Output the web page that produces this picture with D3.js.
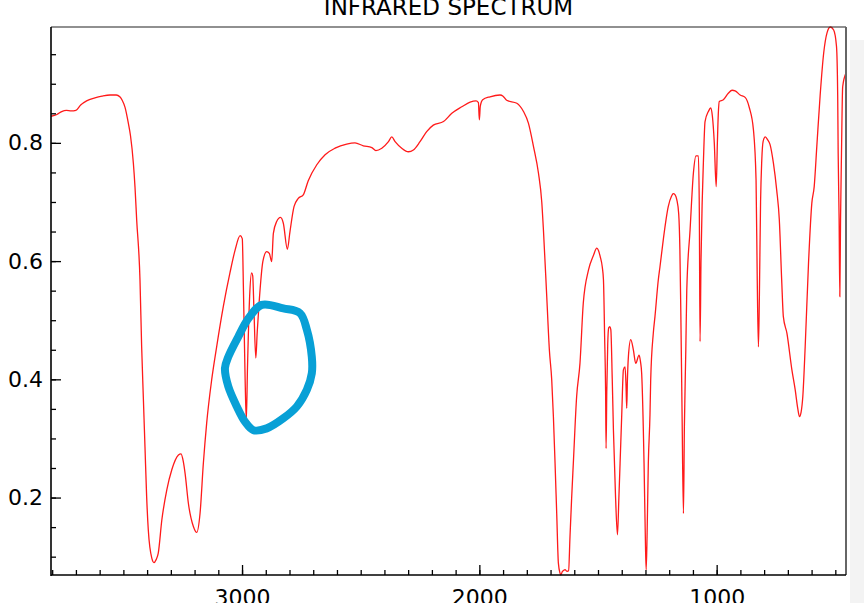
<!DOCTYPE html>
<html>
<head>
<meta charset="utf-8">
<script src="https://cdn.jsdelivr.net/npm/d3@7"></script>
<style>
  body { margin: 0; background: #fff; }
  svg { display: block; font-family: "DejaVu Sans", sans-serif; }
</style>
</head>
<body>
<div id="chart"></div>
<script>
var width = 864,
    height = 603,
    margin = {top: 27, right: 18, bottom: 28, left: 51};

// wavenumber (cm-1), transmittance
var spectrum = [
  [3805, 0.845], [3780, 0.848], [3760, 0.853], [3740, 0.855], [3720, 0.854], [3700, 0.855],
  [3680, 0.864], [3655, 0.871], [3620, 0.876], [3590, 0.879], [3556, 0.881], [3530, 0.881],
  [3515, 0.878], [3505, 0.872], [3493, 0.860], [3479, 0.833], [3470, 0.812], [3458, 0.766],
  [3451, 0.725], [3444, 0.670], [3430, 0.568], [3423, 0.455], [3416, 0.370], [3409, 0.286],
  [3402, 0.202], [3395, 0.145], [3380, 0.097], [3371, 0.090], [3362, 0.095], [3353, 0.106],
  [3338, 0.162], [3317, 0.213], [3296, 0.247], [3268, 0.272], [3257, 0.274], [3248, 0.262],
  [3240, 0.241], [3226, 0.190], [3205, 0.151], [3191, 0.141], [3177, 0.173], [3163, 0.258],
  [3149, 0.326], [3128, 0.399], [3107, 0.455], [3079, 0.523], [3051, 0.580], [3029, 0.619],
  [3008, 0.643], [2999, 0.638], [2994, 0.550], [2987, 0.400], [2982, 0.331], [2977, 0.420],
  [2968, 0.540], [2960, 0.580], [2955, 0.575], [2950, 0.520], [2942, 0.436], [2936, 0.480],
  [2928, 0.530], [2912, 0.600], [2896, 0.616], [2885, 0.613], [2875, 0.599], [2868, 0.647],
  [2854, 0.667], [2838, 0.674], [2826, 0.664], [2809, 0.620], [2798, 0.650], [2781, 0.692],
  [2763, 0.706], [2742, 0.712], [2721, 0.736], [2685, 0.763], [2650, 0.780], [2608, 0.791],
  [2559, 0.798], [2524, 0.800], [2489, 0.795], [2453, 0.792], [2436, 0.787], [2411, 0.791],
  [2383, 0.802], [2369, 0.810], [2355, 0.802], [2327, 0.791], [2299, 0.785], [2278, 0.788],
  [2250, 0.802], [2222, 0.819], [2194, 0.830], [2151, 0.836], [2116, 0.850], [2074, 0.861],
  [2039, 0.869], [2014, 0.871], [2004, 0.868], [2000, 0.839], [1996, 0.862], [1986, 0.873],
  [1955, 0.878], [1913, 0.881], [1900, 0.879], [1885, 0.872], [1842, 0.867], [1814, 0.853],
  [1793, 0.833], [1772, 0.794], [1751, 0.749], [1737, 0.700], [1730, 0.653], [1716, 0.540],
  [1705, 0.450], [1695, 0.399], [1688, 0.337], [1681, 0.258], [1674, 0.173], [1667, 0.089],
  [1660, 0.072], [1657, 0.069], [1650, 0.075], [1644, 0.077], [1639, 0.078], [1630, 0.075],
  [1624, 0.076], [1618, 0.134], [1611, 0.200], [1604, 0.258], [1590, 0.371], [1576, 0.427],
  [1562, 0.529], [1540, 0.585], [1519, 0.610], [1505, 0.622], [1498, 0.618], [1491, 0.608],
  [1482, 0.590], [1477, 0.568], [1472, 0.470], [1468, 0.380], [1466, 0.283], [1463, 0.380],
  [1459, 0.460], [1455, 0.487], [1450, 0.489], [1446, 0.484], [1440, 0.400], [1435, 0.314],
  [1426, 0.200], [1418, 0.137], [1412, 0.200], [1407, 0.258], [1400, 0.340], [1393, 0.416],
  [1386, 0.421], [1382, 0.390], [1379, 0.351], [1376, 0.400], [1372, 0.438], [1362, 0.467],
  [1351, 0.450], [1341, 0.427], [1327, 0.441], [1321, 0.430], [1316, 0.410], [1306, 0.258],
  [1300, 0.120], [1297, 0.078], [1293, 0.140], [1288, 0.258], [1281, 0.340], [1278, 0.399],
  [1267, 0.478], [1260, 0.506], [1246, 0.568], [1239, 0.590], [1225, 0.636], [1204, 0.692],
  [1190, 0.710], [1183, 0.714], [1175, 0.712], [1168, 0.704], [1160, 0.680], [1155, 0.620],
  [1151, 0.512], [1146, 0.350], [1140, 0.173], [1136, 0.320], [1130, 0.450], [1126, 0.550],
  [1112, 0.653], [1098, 0.749], [1087, 0.778], [1077, 0.778], [1073, 0.681], [1070, 0.464],
  [1066, 0.600], [1061, 0.700], [1056, 0.766], [1049, 0.836], [1035, 0.853], [1025, 0.859],
  [1018, 0.845], [1010, 0.800], [1002, 0.726], [997, 0.800], [993, 0.850], [989, 0.870],
  [972, 0.873], [951, 0.884], [935, 0.889], [922, 0.888], [901, 0.881], [880, 0.877],
  [862, 0.859], [845, 0.822], [834, 0.737], [829, 0.568], [824, 0.455], [820, 0.540],
  [815, 0.700], [810, 0.770], [804, 0.803], [795, 0.810], [785, 0.805], [775, 0.797],
  [761, 0.766], [747, 0.720], [736, 0.670], [726, 0.568], [719, 0.506], [704, 0.478],
  [683, 0.416], [669, 0.382], [658, 0.350], [651, 0.337], [644, 0.345], [637, 0.371],
  [627, 0.455], [613, 0.596], [599, 0.698], [589, 0.726], [578, 0.794], [564, 0.880],
  [549, 0.952], [535, 0.986], [521, 0.996], [507, 0.991], [495, 0.963], [490, 0.880],
  [488, 0.783], [484, 0.670], [481, 0.540], [478, 0.670], [474, 0.783], [469, 0.895],
  [455, 0.918]
];

var xMajorTicks = [3000, 2000, 1000],
    xMinorTicks = d3.range(500, 3801, 100),
    yMajorTicks = [0.2, 0.4, 0.6, 0.8],
    yMinorTicks = d3.range(0.1, 0.96, 0.05);

var title = "INFRARED SPECTRUM";

// hand drawn loop, in wavenumber / transmittance units
var annotationLoop = [
  [2917, 0.526], [2826, 0.520], [2756, 0.512], [2727, 0.484], [2706, 0.438], [2706, 0.410],
  [2727, 0.382], [2769, 0.354], [2826, 0.334], [2896, 0.317], [2952, 0.314], [2987, 0.328],
  [3022, 0.354], [3058, 0.388], [3072, 0.419], [3058, 0.438], [3016, 0.472], [2973, 0.503]
];

var svg = d3.select("#chart")
    .append("svg")
    .attr("width", width)
    .attr("height", height);

// faint grey strip at the right edge of the picture
svg.append("rect")
    .attr("x", width - 14)
    .attr("y", 40)
    .attr("width", 14)
    .attr("height", height - 40)
    .attr("fill", "#f3f3f3");

var x = d3.scaleLinear()
    .domain([d3.max(spectrum, function (d) { return d[0]; }), d3.min(spectrum, function (d) { return d[0]; })])
    .range([margin.left, width - margin.right]);

var y = d3.scaleLinear()
    .domain(d3.extent(spectrum, function (d) { return d[1]; }))
    .range([height - margin.bottom, margin.top]);

var plotW = x.range()[1] - x.range()[0],
    plotH = y.range()[0] - y.range()[1];

svg.append("clipPath")
    .attr("id", "plot-clip")
    .append("rect")
    .attr("x", margin.left)
    .attr("y", margin.top - 1)
    .attr("width", plotW)
    .attr("height", plotH + 2);

var line = d3.line()
    .x(function (d) { return x(d[0]); })
    .y(function (d) { return y(d[1]); })
    .curve(d3.curveMonotoneX);

svg.append("path")
    .datum(spectrum)
    .attr("clip-path", "url(#plot-clip)")
    .attr("fill", "none")
    .attr("stroke", "#ff1a1a")
    .attr("stroke-width", 1.3)
    .attr("d", line);

// axes: ticks point inward
var axisY0 = y.range()[0];

svg.append("g")
    .attr("transform", "translate(0," + axisY0 + ")")
    .call(d3.axisBottom(x).tickValues(xMinorTicks).tickSize(-5).tickSizeOuter(0).tickFormat(""));

svg.append("g")
    .attr("class", "x major")
    .attr("transform", "translate(0," + axisY0 + ")")
    .call(d3.axisBottom(x).tickValues(xMajorTicks).tickSize(-10).tickSizeOuter(0).tickPadding(14)
        .tickFormat(d3.format("d")));

svg.append("g")
    .attr("transform", "translate(" + margin.left + ",0)")
    .call(d3.axisLeft(y).tickValues(yMinorTicks).tickSize(-5).tickSizeOuter(0).tickFormat(""));

svg.append("g")
    .attr("class", "y major")
    .attr("transform", "translate(" + margin.left + ",0)")
    .call(d3.axisLeft(y).tickValues(yMajorTicks).tickSize(-10).tickSizeOuter(0).tickPadding(8)
        .tickFormat(d3.format(".1f")));

svg.selectAll(".domain").remove();
svg.selectAll(".tick line")
    .attr("stroke", "#000")
    .attr("stroke-width", 1.3);
svg.selectAll(".major text")
    .attr("fill", "#000")
    .style("font-size", "22px")
    .style("font-family", "DejaVu Sans");

// frame
svg.append("line")
    .attr("x1", margin.left).attr("x2", margin.left + plotW)
    .attr("y1", margin.top).attr("y2", margin.top)
    .attr("stroke", "#222").attr("stroke-width", 1.2);
svg.append("line")
    .attr("x1", margin.left + plotW).attr("x2", margin.left + plotW)
    .attr("y1", margin.top).attr("y2", axisY0)
    .attr("stroke", "#666").attr("stroke-width", 2);
svg.append("line")
    .attr("x1", margin.left).attr("x2", margin.left)
    .attr("y1", margin.top).attr("y2", axisY0 + 1)
    .attr("stroke", "#000").attr("stroke-width", 1.6);
svg.append("line")
    .attr("x1", margin.left).attr("x2", margin.left + plotW)
    .attr("y1", axisY0).attr("y2", axisY0)
    .attr("stroke", "#000").attr("stroke-width", 1.6);

svg.append("text")
    .attr("x", margin.left + plotW / 2)
    .attr("y", 15)
    .attr("text-anchor", "middle")
    .style("font-size", "23px")
    .style("fill", "#000")
    .text(title);

// blue hand drawn circle
svg.append("path")
    .datum(annotationLoop)
    .attr("fill", "none")
    .attr("stroke", "#08a0d6")
    .attr("stroke-width", 8)
    .attr("stroke-linejoin", "round")
    .attr("d", d3.line()
        .x(function (d) { return x(d[0]); })
        .y(function (d) { return y(d[1]); })
        .curve(d3.curveCatmullRomClosed));
</script>
</body>
</html>
